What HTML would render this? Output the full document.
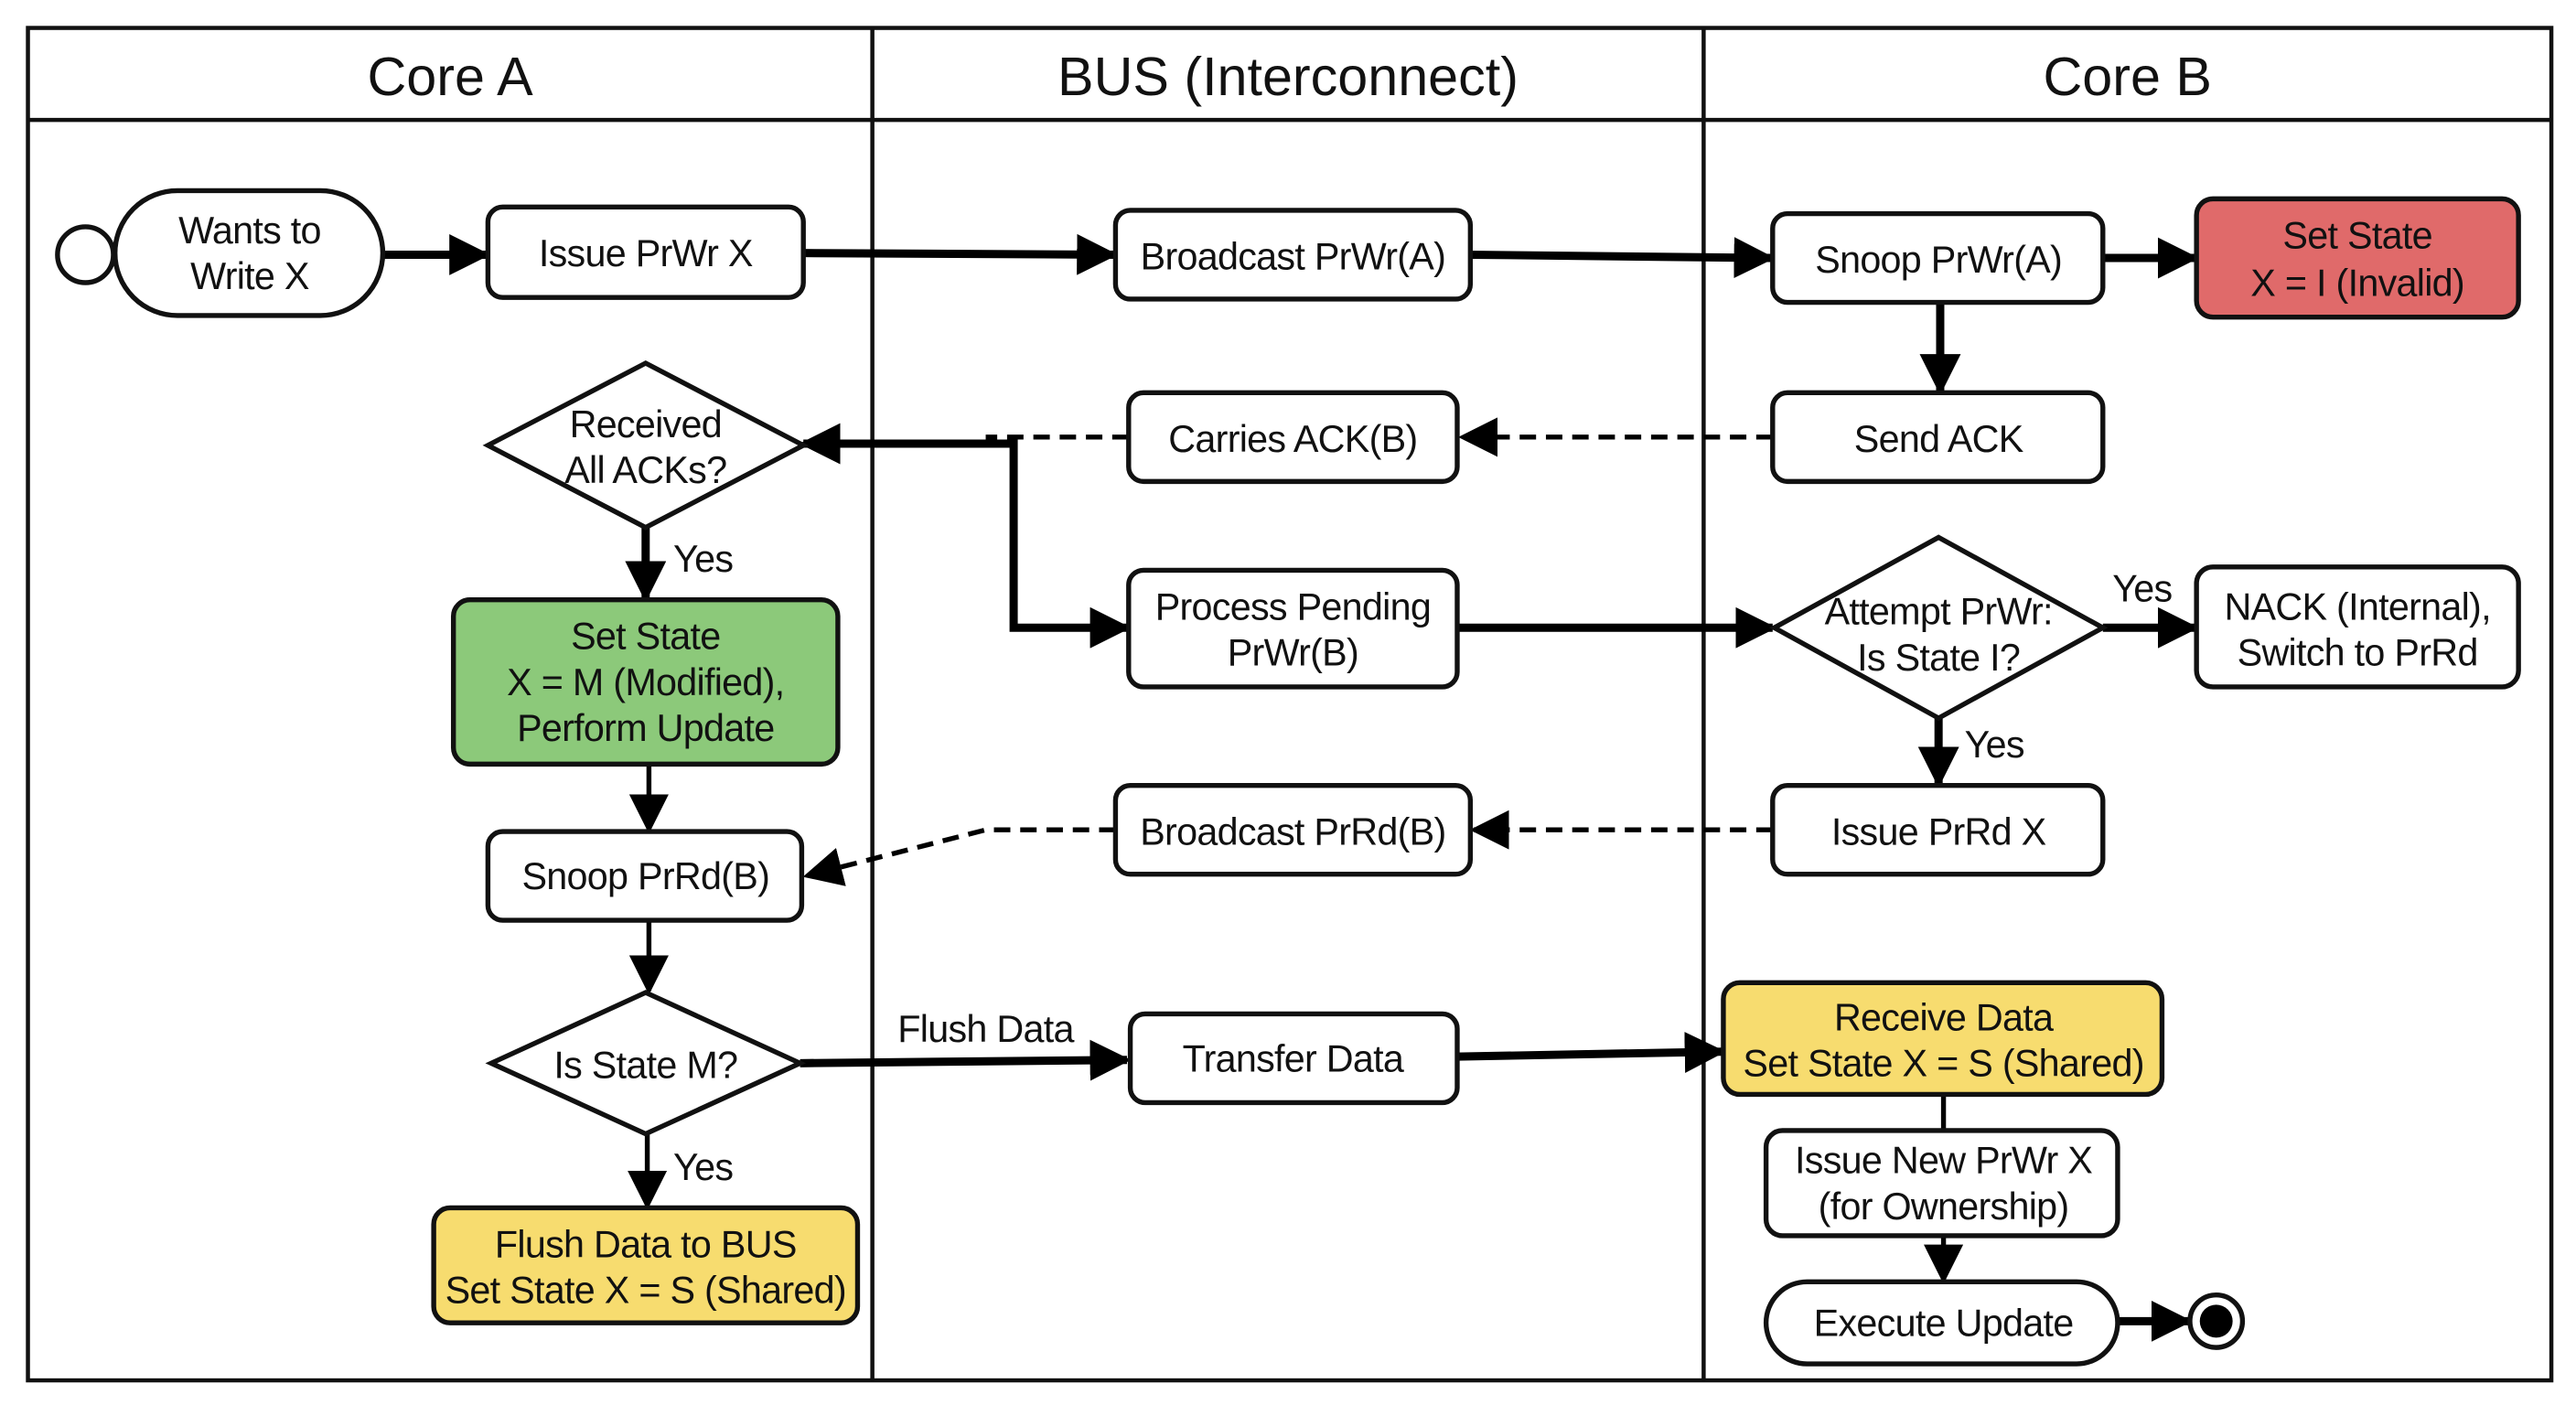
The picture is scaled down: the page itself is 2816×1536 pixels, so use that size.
<!DOCTYPE html>
<html><head><meta charset="utf-8"><style>html,body{margin:0;padding:0;background:#fff}svg{display:block}</style></head>
<body>
<svg width="2816" height="1536" viewBox="0 0 1568 855" preserveAspectRatio="none" xmlns="http://www.w3.org/2000/svg" font-family="Liberation Sans, sans-serif">
<defs>
<marker id="a" viewBox="0 0 10 10" refX="9" refY="5" markerWidth="5" markerHeight="5" orient="auto-start-reverse" markerUnits="strokeWidth"><path d="M0,0 L10,5 L0,10 z" fill="#000"/></marker>
<marker id="b" viewBox="0 0 10 10" refX="9" refY="5" markerWidth="8" markerHeight="8" orient="auto-start-reverse" markerUnits="strokeWidth"><path d="M0,0 L10,5 L0,10 z" fill="#000"/></marker>
</defs>
<rect width="1568" height="855" fill="#fff"/>
<g fill="none" stroke="#111" stroke-width="2.5">
<rect x="17" y="17" width="1536" height="823"/>
<line x1="17" y1="73" x2="1553" y2="73"/>
<line x1="531" y1="17" x2="531" y2="840"/>
<line x1="1037" y1="17" x2="1037" y2="840"/>
</g>
<g font-size="33" text-anchor="middle" fill="#111">
<text x="274" y="58">Core A</text>
<text x="784" y="58">BUS (Interconnect)</text>
<text x="1295" y="58">Core B</text>
</g>
<g fill="none" stroke="#000" stroke-width="5">
<line x1="233" y1="155" x2="296" y2="155" marker-end="url(#a)"/>
<line x1="489" y1="154" x2="678" y2="155" marker-end="url(#a)"/>
<line x1="895" y1="155" x2="1078" y2="157" marker-end="url(#a)"/>
<line x1="1280" y1="157" x2="1336" y2="157" marker-end="url(#a)"/>
<line x1="1181" y1="184" x2="1181" y2="238" marker-end="url(#a)"/>
<polyline points="489,270 617,270 617,382 686,382" marker-start="url(#a)" marker-end="url(#a)"/>
<line x1="887" y1="382" x2="1079" y2="382" marker-end="url(#a)"/>
<line x1="1280" y1="382" x2="1336" y2="382" marker-end="url(#a)"/>
<line x1="1180" y1="437" x2="1180" y2="477" marker-end="url(#a)"/>
<line x1="393" y1="321" x2="393" y2="364" marker-end="url(#a)"/>
<line x1="487" y1="647" x2="686" y2="645" marker-end="url(#a)"/>
<line x1="887" y1="643" x2="1048" y2="640" marker-end="url(#a)"/>
<line x1="1289" y1="804" x2="1332" y2="804" marker-end="url(#a)"/>
</g>
<g fill="none" stroke="#000" stroke-width="3">
<line x1="395" y1="465" x2="395" y2="505" marker-end="url(#b)"/>
<line x1="395" y1="560" x2="395" y2="603" marker-end="url(#b)"/>
<line x1="394" y1="690" x2="394" y2="734" marker-end="url(#b)"/>
<line x1="1183" y1="666" x2="1183" y2="688"/>
<line x1="1183" y1="752" x2="1183" y2="779" marker-end="url(#b)"/>
</g>
<g fill="none" stroke="#000" stroke-width="3" stroke-dasharray="10,6">
<line x1="1079" y1="266" x2="890" y2="266" marker-end="url(#b)"/>
<line x1="687" y1="266" x2="600" y2="266"/>
<line x1="1079" y1="505" x2="897" y2="505" marker-end="url(#b)"/>
<polyline points="679,505 600,505 491,533" marker-end="url(#b)"/>
</g>
<g stroke="#111" stroke-width="3">
<circle cx="52" cy="155" r="17" fill="#fff"/>
<rect x="70" y="116" width="163" height="76" rx="38" fill="#fff"/>
<rect x="297" y="126" width="192" height="55" rx="9" fill="#fff"/>
<rect x="679" y="128" width="216" height="54" rx="9" fill="#fff"/>
<rect x="1079" y="130" width="201" height="54" rx="9" fill="#fff"/>
<rect x="1337" y="121" width="196" height="72" rx="10" fill="#e06a6a"/>
<rect x="1079" y="239" width="201" height="54" rx="9" fill="#fff"/>
<rect x="687" y="239" width="200" height="54" rx="9" fill="#fff"/>
<polygon points="393,221 489,271 393,321 297,271" fill="#fff"/>
<rect x="276" y="365" width="234" height="100" rx="10" fill="#8cc97a"/>
<rect x="687" y="347" width="200" height="71" rx="9" fill="#fff"/>
<polygon points="1180,327 1280,382 1180,437 1080,382" fill="#fff"/>
<rect x="1337" y="345" width="196" height="73" rx="10" fill="#fff"/>
<rect x="297" y="506" width="191" height="54" rx="9" fill="#fff"/>
<rect x="679" y="478" width="216" height="54" rx="9" fill="#fff"/>
<rect x="1079" y="478" width="201" height="54" rx="9" fill="#fff"/>
<polygon points="393,604 487,647 393,690 299,647" fill="#fff"/>
<rect x="688" y="617" width="199" height="54" rx="9" fill="#fff"/>
<rect x="1049" y="598" width="267" height="68" rx="10" fill="#f7dc6f"/>
<rect x="264" y="735" width="258" height="70" rx="10" fill="#f7dc6f"/>
<rect x="1075" y="688" width="214" height="64" rx="10" fill="#fff"/>
<rect x="1075" y="780" width="214" height="50" rx="25" fill="#fff"/>
<circle cx="1349" cy="804" r="16" fill="#fff"/>
</g>
<circle cx="1349" cy="804" r="10" fill="#000"/>
<g font-size="23" text-anchor="middle" fill="#111" letter-spacing="-0.4">
<text x="152" y="148">Wants to</text><text x="152" y="176">Write X</text>
<text x="393" y="162">Issue PrWr X</text>
<text x="787" y="164">Broadcast PrWr(A)</text>
<text x="1180" y="166">Snoop PrWr(A)</text>
<text x="1435" y="151">Set State</text><text x="1435" y="180">X = I (Invalid)</text>
<text x="1180" y="275">Send ACK</text>
<text x="787" y="275">Carries ACK(B)</text>
<text x="393" y="266">Received</text><text x="393" y="294">All ACKs?</text>
<text x="428" y="348">Yes</text>
<text x="393" y="395">Set State</text><text x="393" y="423">X = M (Modified),</text><text x="393" y="451">Perform Update</text>
<text x="787" y="377">Process Pending</text><text x="787" y="405">PrWr(B)</text>
<text x="1180" y="380">Attempt PrWr:</text><text x="1180" y="408">Is State I?</text>
<text x="1304" y="366">Yes</text>
<text x="1435" y="377">NACK (Internal),</text><text x="1435" y="405">Switch to PrRd</text>
<text x="1214" y="461">Yes</text>
<text x="393" y="541">Snoop PrRd(B)</text>
<text x="787" y="514">Broadcast PrRd(B)</text>
<text x="1180" y="514">Issue PrRd X</text>
<text x="393" y="656">Is State M?</text>
<text x="600" y="634">Flush Data</text>
<text x="787" y="652">Transfer Data</text>
<text x="1183" y="627">Receive Data</text><text x="1183" y="655">Set State X = S (Shared)</text>
<text x="428" y="718">Yes</text>
<text x="393" y="765">Flush Data to BUS</text><text x="393" y="793">Set State X = S (Shared)</text>
<text x="1183" y="714">Issue New PrWr X</text><text x="1183" y="742">(for Ownership)</text>
<text x="1183" y="813">Execute Update</text>
</g>
</svg>
</body></html>
